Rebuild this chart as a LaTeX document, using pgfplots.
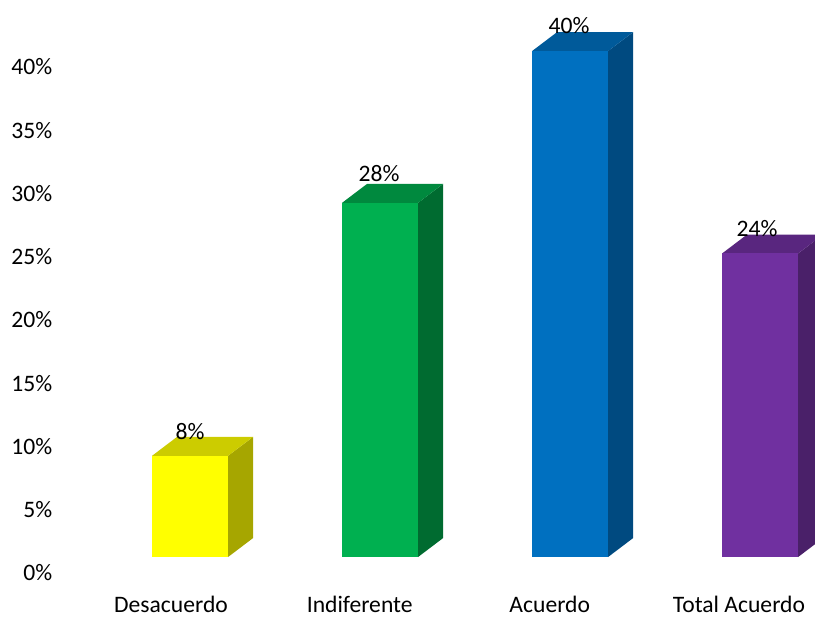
\documentclass[border=0pt]{standalone}
\usepackage{fontspec}
\setmainfont{Carlito}
\usepackage{pgfplots}
\pgfplotsset{compat=1.18}
\definecolor{yf}{HTML}{FFFF00}\definecolor{ys}{HTML}{A6A600}\definecolor{yt}{HTML}{CCCC00}
\definecolor{gf}{HTML}{00B050}\definecolor{gs}{HTML}{006B30}\definecolor{gt}{HTML}{00893E}
\definecolor{bf}{HTML}{0070C0}\definecolor{bs}{HTML}{004A80}\definecolor{bt}{HTML}{005A9A}
\definecolor{pf}{HTML}{7030A0}\definecolor{ps}{HTML}{4A2069}\definecolor{pt}{HTML}{59267F}
\newcommand\lbl{\fontsize{17.7pt}{20pt}\selectfont}
\begin{document}
\begin{tikzpicture}
\begin{axis}[
  at={(0,0)}, anchor=south west,
  scale only axis, width=570pt, height=441pt,
  xmin=-0.7105, xmax=3.289, ymin=-1.186, ymax=45.3,
  axis lines=left, axis line style={draw=none,-}, major tick length=0pt,
  xtick={-0.1,0.893,1.893,2.889},
  xticklabels={Desacuerdo,Indiferente,Acuerdo,Total Acuerdo},
  ytick={0,5,10,15,20,25,30,35,40},
  yticklabels={0\%,5\%,10\%,15\%,20\%,25\%,30\%,35\%,40\%},
  tick label style={font=\lbl},
  yticklabel style={xshift=1.5pt},
  xticklabel style={anchor=base, yshift=-18.5pt},
  clip=true,
]
% Desacuerdo 8
\addplot[fill=ys,draw=none] coordinates {(0.2,1.26)(0.3316,2.76)(0.3316,10.76)(0.2,9.26)} --cycle;
\addplot[fill=yt,draw=none] coordinates {(-0.2,9.26)(-0.0684,10.76)(0.3316,10.76)(0.2,9.26)} --cycle;
\addplot[fill=yf,draw=none] coordinates {(-0.2,1.26)(0.2,1.26)(0.2,9.26)(-0.2,9.26)} --cycle;
% Indiferente 28
\addplot[fill=gs,draw=none] coordinates {(1.2,1.26)(1.3316,2.76)(1.3316,30.76)(1.2,29.26)} --cycle;
\addplot[fill=gt,draw=none] coordinates {(0.8,29.26)(0.9316,30.76)(1.3316,30.76)(1.2,29.26)} --cycle;
\addplot[fill=gf,draw=none] coordinates {(0.8,1.26)(1.2,1.26)(1.2,29.26)(0.8,29.26)} --cycle;
% Acuerdo 40
\addplot[fill=bs,draw=none] coordinates {(2.2,1.26)(2.3316,2.76)(2.3316,42.76)(2.2,41.26)} --cycle;
\addplot[fill=bt,draw=none] coordinates {(1.8,41.26)(1.9316,42.76)(2.3316,42.76)(2.2,41.26)} --cycle;
\addplot[fill=bf,draw=none] coordinates {(1.8,1.26)(2.2,1.26)(2.2,41.26)(1.8,41.26)} --cycle;
% Total Acuerdo 24
\addplot[fill=ps,draw=none] coordinates {(3.2,1.26)(3.3316,2.76)(3.3316,26.76)(3.2,25.26)} --cycle;
\addplot[fill=pt,draw=none] coordinates {(2.8,25.26)(2.9316,26.76)(3.3316,26.76)(3.2,25.26)} --cycle;
\addplot[fill=pf,draw=none] coordinates {(2.8,1.26)(3.2,1.26)(3.2,25.26)(2.8,25.26)} --cycle;
\node[font=\lbl] at (axis cs:0,11.15) {8\%};
\node[font=\lbl] at (axis cs:0.995,31.6) {28\%};
\node[font=\lbl] at (axis cs:1.995,43.24) {40\%};
\node[font=\lbl] at (axis cs:2.984,27.2) {24\%};
\end{axis}
\useasboundingbox (-41.25pt,-19.5pt) rectangle (570pt,441pt);
\end{tikzpicture}
\end{document}
